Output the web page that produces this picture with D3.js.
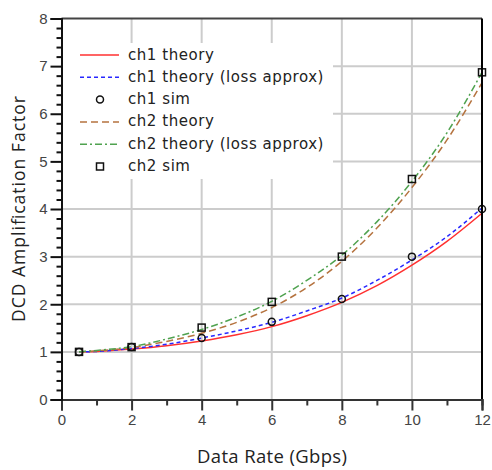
<!DOCTYPE html>
<html>
<head>
<meta charset="utf-8">
<script src="https://cdn.jsdelivr.net/npm/d3@7"></script>
<style>
  body { margin: 0; background: #fff; }
  svg { display: block; }
</style>
</head>
<body>
<div id="chart"></div>
<script>
// values
const rates = [0.5, 1, 2, 3, 4, 5, 6, 7, 8, 9, 10, 11, 12]
const ch1Theory = [1.0, 1.01, 1.06, 1.13, 1.23, 1.36, 1.53, 1.76, 2.04, 2.39, 2.82, 3.32, 3.91]
const ch1Loss = [1.0, 1.01, 1.07, 1.16, 1.29, 1.44, 1.62, 1.86, 2.13, 2.5, 2.93, 3.42, 4.02]
const ch2Theory = [1.0, 1.02, 1.09, 1.22, 1.39, 1.62, 1.93, 2.35, 2.9, 3.6, 4.45, 5.45, 6.65]
const ch2Loss = [1.0, 1.03, 1.11, 1.27, 1.47, 1.73, 2.06, 2.5, 3.03, 3.73, 4.58, 5.6, 6.87]

const simRates = [0.5, 2, 4, 6, 8, 10, 12]
const ch1Sim = [1.0, 1.1, 1.29, 1.63, 2.11, 3.0, 4.0]
const ch2Sim = [1.0, 1.1, 1.51, 2.05, 3.0, 4.63, 6.87]

const xTicks = [0, 2, 4, 6, 8, 10, 12]
const yTicks = [0, 1, 2, 3, 4, 5, 6, 7, 8]

const W = 492, H = 470
const margin = { top: 18.5, right: 10, bottom: 70.5, left: 61.5 }
const innerW = W - margin.left - margin.right
const innerH = H - margin.top - margin.bottom

const x = d3.scaleLinear().domain([0, 12]).range([margin.left, margin.left + innerW])
const y = d3.scaleLinear().domain([0, 8]).range([margin.top + innerH, margin.top])

const svg = d3.select("#chart").append("svg")
    .attr("width", W)
    .attr("height", H)

// grid
const grid = svg.append("g").attr("stroke", "#cccccc").attr("stroke-width", 2)
grid.selectAll("line.v").data(xTicks.filter(d => d > 0 && d < 12)).enter()
    .append("line").attr("class", "v")
    .attr("x1", d => x(d)).attr("x2", d => x(d))
    .attr("y1", y(0)).attr("y2", y(8))
grid.selectAll("line.h").data(yTicks.filter(d => d > 0 && d < 8)).enter()
    .append("line").attr("class", "h")
    .attr("x1", x(0)).attr("x2", x(12))
    .attr("y1", d => y(d)).attr("y2", d => y(d))

// legend box sits over grid
const legendBox = { x: 63, y: 43, w: 270, h: 136 }

const series = [
    { name: "ch1 theory", vals: ch1Theory, color: "#ff3030", dash: null, width: 1.5 },
    { name: "ch1 theory (loss approx)", vals: ch1Loss, color: "#2828ff", dash: "4,3", width: 1.5 },
    { name: "ch1 sim", marker: "circle", rates: simRates, vals: ch1Sim },
    { name: "ch2 theory", vals: ch2Theory, color: "#b5733f", dash: "7,4", width: 1.5 },
    { name: "ch2 theory (loss approx)", vals: ch2Loss, color: "#4fa24f", dash: "7,3,2,3", width: 1.5 },
    { name: "ch2 sim", marker: "square", rates: simRates, vals: ch2Sim }
]

const line = d3.line()
    .x(d => x(d[0]))
    .y(d => y(d[1]))
    .curve(d3.curveMonotoneX)

const plot = svg.append("g")
series.filter(s => !s.marker).forEach(s => {
    plot.append("path")
	.datum(rates.map((r, i) => [r, s.vals[i]]))
	.attr("fill", "none")
	.attr("stroke", s.color)
	.attr("stroke-width", s.width)
	.attr("stroke-dasharray", s.dash)
	.attr("d", line)
})

function drawMarker(g, kind, cx, cy) {
    if (kind === "circle") {
	g.append("circle")
	    .attr("cx", cx).attr("cy", cy).attr("r", 3.5)
	    .attr("fill", "none").attr("stroke", "#111").attr("stroke-width", 1.5)
    } else {
	g.append("rect")
	    .attr("x", cx - 3.5).attr("y", cy - 3.5)
	    .attr("width", 7).attr("height", 7)
	    .attr("fill", "none").attr("stroke", "#111").attr("stroke-width", 1.5)
    }
}

series.filter(s => s.marker).forEach(s => {
    s.rates.forEach((r, i) => drawMarker(plot, s.marker, x(r), y(s.vals[i])))
})

// legend
const legend = svg.append("g")
legend.append("rect")
    .attr("x", legendBox.x).attr("y", legendBox.y)
    .attr("width", legendBox.w).attr("height", legendBox.h)
    .attr("fill", "#fff")
series.forEach((s, i) => {
    const ly = 55 + i * 22.3
    if (s.marker) {
	drawMarker(legend, s.marker, 100, ly)
    } else {
	legend.append("line")
	    .attr("x1", 80).attr("x2", 119)
	    .attr("y1", ly).attr("y2", ly)
	    .attr("stroke", s.color)
	    .attr("stroke-width", s.width)
	    .attr("stroke-dasharray", s.dash)
    }
    legend.append("text")
	.attr("x", 128).attr("y", ly + 4.5)
	.attr("font-family", "'DejaVu Sans', sans-serif")
	.attr("font-size", 15)
	.attr("letter-spacing", 0.55)
	.attr("fill", "#222")
	.text(s.name)
})

// frame
svg.append("line")
    .attr("x1", x(0)).attr("x2", x(12))
    .attr("y1", y(8)).attr("y2", y(8))
    .attr("stroke", "#444").attr("stroke-width", 2)
svg.append("line")
    .attr("x1", x(12)).attr("x2", x(12))
    .attr("y1", y(8)).attr("y2", y(0))
    .attr("stroke", "#000").attr("stroke-width", 2)

// axes
const xAxis = d3.axisBottom(x)
    .tickValues(xTicks)
    .tickSize(11)
    .tickPadding(4)
    .tickFormat(d3.format("d"))
const xMinor = d3.axisBottom(x)
    .tickValues(d3.range(1, 12, 2))
    .tickSize(6)
    .tickFormat("")
const yAxis = d3.axisLeft(y)
    .tickValues(yTicks)
    .tickSize(11)
    .tickPadding(3)
    .tickFormat(d3.format("d"))
const yMinor = d3.axisLeft(y)
    .tickValues(d3.range(0, 40).filter(i => i % 5 !== 0).map(i => i / 5))
    .tickSize(5)
    .tickFormat("")

function styleAxis(g, color) {
    g.select(".domain").attr("stroke", color).attr("stroke-width", 2)
    g.selectAll(".tick line").attr("stroke", color).attr("stroke-width", 2)
    g.selectAll(".tick text")
	.attr("font-family", "'Liberation Sans', Arial, sans-serif")
	.attr("font-size", 15)
	.attr("fill", "#444")
}

svg.append("g")
    .attr("transform", `translate(0,${y(0)})`)
    .call(xMinor)
    .call(g => styleAxis(g, "#333"))
svg.append("g")
    .attr("transform", `translate(0,${y(0)})`)
    .call(xAxis)
    .call(g => styleAxis(g, "#333"))
svg.append("g")
    .attr("transform", `translate(${x(0)},0)`)
    .call(yMinor)
    .call(g => styleAxis(g, "#111"))
svg.append("g")
    .attr("transform", `translate(${x(0)},0)`)
    .call(yAxis)
    .call(g => styleAxis(g, "#111"))

// titles
svg.append("text")
    .attr("x", 272).attr("y", 463)
    .attr("text-anchor", "middle")
    .attr("font-family", "'Open Sans', sans-serif")
    .attr("font-size", 18.5)
    .attr("fill", "#222")
    .attr("textLength", 150)
    .attr("lengthAdjust", "spacing")
    .text("Data Rate (Gbps)")
svg.append("text")
    .attr("transform", `translate(25,209) rotate(-90)`)
    .attr("text-anchor", "middle")
    .attr("font-family", "'Open Sans', sans-serif")
    .attr("font-size", 17.5)
    .attr("fill", "#222")
    .attr("textLength", 226)
    .attr("lengthAdjust", "spacing")
    .text("DCD Amplification Factor")
</script>
</body>
</html>
